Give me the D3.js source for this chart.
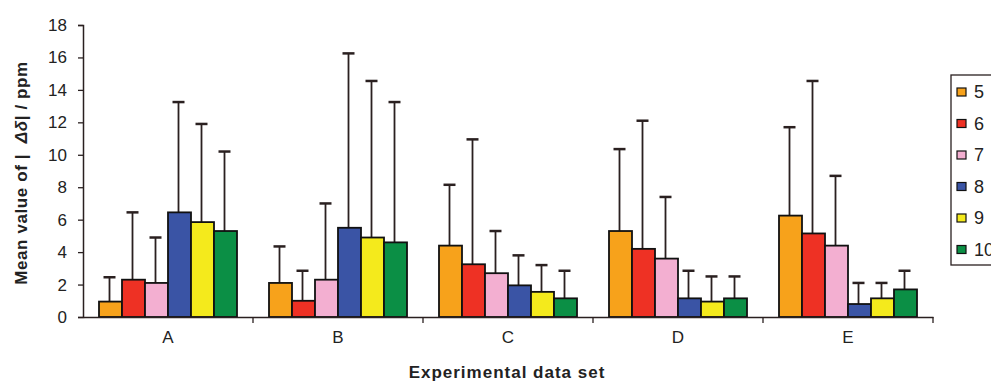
<!DOCTYPE html>
<html>
<head>
<meta charset="utf-8">
<script src="https://cdn.jsdelivr.net/npm/d3@7"></script>
<style>
  body { margin: 0; background: #fff; }
  svg { display: block; font-family: Arial, "Liberation Sans", sans-serif; }
</style>
</head>
<body>
<script>
var WIDTH = 991, HEIGHT = 383;
var LEFT = 83, RIGHT = 933, TOP = 25, BOTTOM = 317;

var categories = ["A", "B", "C", "D", "E"];
var series = ["5", "6", "7", "8", "9", "10"];
var colors = ["#F7A21B", "#EE3124", "#F3AFD1", "#3A54A5", "#F4EA1C", "#0B8F45"];
var yTicks = [0, 2, 4, 6, 8, 10, 12, 14, 16, 18];

// mean per series, one entry per category A..E
var mean5  = [0.95, 2.1, 4.4, 5.3, 6.25];
var mean6  = [2.3, 1.0, 3.25, 4.2, 5.15];
var mean7  = [2.1, 2.3, 2.7, 3.6, 4.4];
var mean8  = [6.45, 5.5, 1.95, 1.15, 0.8];
var mean9  = [5.85, 4.9, 1.55, 0.95, 1.15];
var mean10 = [5.3, 4.6, 1.15, 1.15, 1.7];

// top of the error bar (mean + sd)
var top5  = [2.45, 4.35, 8.15, 10.35, 11.7];
var top6  = [6.45, 2.85, 10.95, 12.1, 14.55];
var top7  = [4.9, 7.0, 5.3, 7.4, 8.7];
var top8  = [13.25, 16.25, 3.8, 2.85, 2.1];
var top9  = [11.9, 14.55, 3.2, 2.5, 2.1];
var top10 = [10.2, 13.25, 2.85, 2.5, 2.85];

var means = [mean5, mean6, mean7, mean8, mean9, mean10];
var tops = [top5, top6, top7, top8, top9, top10];

var translate = function (x, y) { return "translate(" + x + "," + y + ")"; };

var svg = d3.select("body").append("svg")
  .attr("width", WIDTH)
  .attr("height", HEIGHT);

var x0 = d3.scaleBand().domain(categories).range([LEFT, RIGHT]).padding(0);
var x1 = d3.scaleBand().domain(series).range([16, x0.bandwidth() - 16]).padding(0);
var y = d3.scaleLinear().domain([0, 18]).range([BOTTOM, TOP]);

var rows = [];
categories.forEach(function (c, ci) {
  series.forEach(function (s, si) {
    rows.push({cat: c, ser: s, color: colors[si], mean: means[si][ci], top: tops[si][ci]});
  });
});

// error bars (drawn first, bars cover the lower part)
var err = svg.append("g");
err.selectAll("line.stem").data(rows).enter().append("line")
  .attr("x1", function (d) { return x0(d.cat) + x1(d.ser) + x1.bandwidth() / 2 - 1; })
  .attr("x2", function (d) { return x0(d.cat) + x1(d.ser) + x1.bandwidth() / 2 - 1; })
  .attr("y1", function (d) { return y(d.mean); })
  .attr("y2", function (d) { return y(d.top); })
  .attr("stroke", "#2a2020").attr("stroke-width", 1.8);
err.selectAll("line.cap").data(rows).enter().append("line")
  .attr("x1", function (d) { return x0(d.cat) + x1(d.ser) + x1.bandwidth() / 2 - 7; })
  .attr("x2", function (d) { return x0(d.cat) + x1(d.ser) + x1.bandwidth() / 2 + 5; })
  .attr("y1", function (d) { return y(d.top); })
  .attr("y2", function (d) { return y(d.top); })
  .attr("stroke", "#2a2020").attr("stroke-width", 2.5);

// bars
svg.append("g").selectAll("rect").data(rows).enter().append("rect")
  .attr("x", function (d) { return x0(d.cat) + x1(d.ser); })
  .attr("y", function (d) { return y(d.mean); })
  .attr("width", x1.bandwidth())
  .attr("height", function (d) { return BOTTOM - y(d.mean); })
  .attr("fill", function (d) { return d.color; })
  .attr("stroke", "#111").attr("stroke-width", 1.8);

// y axis
var yAxis = svg.append("g")
  .attr("transform", translate(LEFT, 0))
  .call(d3.axisLeft(y).tickValues(yTicks).tickSize(5).tickPadding(11));
yAxis.select(".domain").attr("stroke", "#2a2020").attr("stroke-width", 1.5);
yAxis.selectAll(".tick line").attr("stroke", "#2a2020").attr("stroke-width", 1.3);
yAxis.selectAll("text").attr("font-size", 17).attr("fill", "#222");

// x axis
var xAxis = svg.append("g")
  .attr("transform", translate(0, BOTTOM))
  .call(d3.axisBottom(x0).tickSize(0).tickPadding(14));
xAxis.select(".domain").attr("stroke", "#2a2020").attr("stroke-width", 1.5);
xAxis.selectAll("text").attr("font-size", 17).attr("fill", "#222");
xAxis.selectAll("line.sep").data(categories).enter().append("line")
  .attr("class", "sep")
  .attr("x1", function (d) { return x0(d) + x0.bandwidth(); })
  .attr("x2", function (d) { return x0(d) + x0.bandwidth(); })
  .attr("y1", 0).attr("y2", 6)
  .attr("stroke", "#2a2020").attr("stroke-width", 1.3);

// axis titles
svg.append("text")
  .attr("transform", translate(27, 173) + " rotate(-90)")
  .attr("text-anchor", "middle")
  .attr("font-size", 17).attr("font-weight", "bold").attr("fill", "#222")
  .attr("letter-spacing", 0.6)
  .html('Mean value of |\u00a0\u00a0<tspan font-style="italic">\u0394\u03b4</tspan>| / ppm');

svg.append("text")
  .attr("x", 507).attr("y", 378)
  .attr("text-anchor", "middle")
  .attr("font-size", 17).attr("font-weight", "bold").attr("fill", "#222")
  .attr("letter-spacing", 1)
  .text("Experimental data set");

// legend
var legend = svg.append("g").attr("transform", translate(951, 75));
legend.append("rect")
  .attr("x", 0).attr("y", 0).attr("width", 60).attr("height", 190)
  .attr("fill", "#fff").attr("stroke", "#2a2020").attr("stroke-width", 1.3);
var items = legend.selectAll("g.item").data(series).enter().append("g")
  .attr("class", "item")
  .attr("transform", function (d, i) { return translate(6, 17 + i * 31.5); });
items.append("rect")
  .attr("x", 0).attr("y", -4).attr("width", 9).attr("height", 8)
  .attr("fill", function (d, i) { return colors[i]; })
  .attr("stroke", "#111").attr("stroke-width", 1.2);
items.append("text")
  .attr("x", 17).attr("y", 6)
  .attr("font-size", 18).attr("fill", "#222")
  .text(function (d) { return d; });
</script>
</body>
</html>
